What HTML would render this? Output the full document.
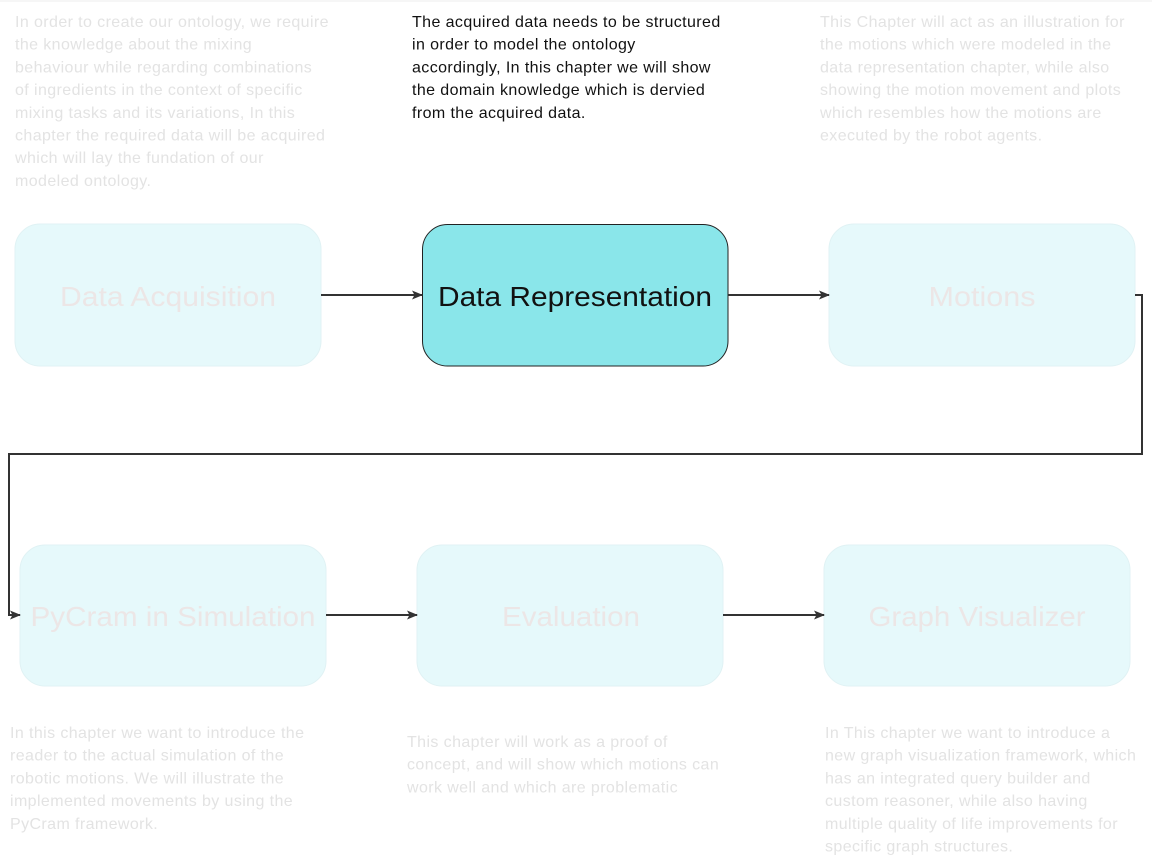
<!DOCTYPE html>
<html><head><meta charset="utf-8"><style>
html,body{margin:0;padding:0;background:#fff;}
svg{display:block;}
text{font-family:"Liberation Sans","DejaVu Sans",sans-serif;}
.f{fill:#e3e3e3;font-size:16px;letter-spacing:0.4px;}
.d{fill:#111;font-size:16px;letter-spacing:0.4px;}
.bl{fill:#ece6e6;font-size:28px;text-anchor:middle;}
.box{fill:#e6f9fb;stroke:#e0f2f4;stroke-width:1;}
.ln{stroke:#333;stroke-width:2;fill:none;}
</style></head><body>
<svg width="1152" height="867" viewBox="0 0 1152 867" xmlns="http://www.w3.org/2000/svg">
<defs><marker id="a" markerWidth="12" markerHeight="12" refX="10" refY="6" orient="auto" markerUnits="userSpaceOnUse"><path d="M0,1.5 L11,6 L0,10.5 L2.5,6 Z" fill="#333"/></marker></defs>
<line x1="0" y1="1" x2="1152" y2="1" stroke="#eee" stroke-width="1"/>
<g class="f">
<text x="15" y="27">In order to create our ontology, we require</text>
<text x="15" y="49.7">the knowledge about the mixing</text>
<text x="15" y="72.4">behaviour while regarding combinations</text>
<text x="15" y="95.1">of ingredients in the context of specific</text>
<text x="15" y="117.8">mixing tasks and its variations, In this</text>
<text x="15" y="140.5">chapter the required data will be acquired</text>
<text x="15" y="163.2">which will lay the fundation of our</text>
<text x="15" y="185.9">modeled ontology.</text>
<text x="820" y="27">This Chapter will act as an illustration for</text>
<text x="820" y="49.7">the motions which were modeled in the</text>
<text x="820" y="72.4">data representation chapter, while also</text>
<text x="820" y="95.1">showing the motion movement and plots</text>
<text x="820" y="117.8">which resembles how the motions are</text>
<text x="820" y="140.5">executed by the robot agents.</text>
<text x="10" y="738">In this chapter we want to introduce the</text>
<text x="10" y="760.7">reader to the actual simulation of the</text>
<text x="10" y="783.4">robotic motions. We will illustrate the</text>
<text x="10" y="806.1">implemented movements by using the</text>
<text x="10" y="828.8">PyCram framework.</text>
<text x="407" y="747">This chapter will work as a proof of</text>
<text x="407" y="769.7">concept, and will show which motions can</text>
<text x="407" y="792.4">work well and which are problematic</text>
<text x="825" y="738">In This chapter we want to introduce a</text>
<text x="825" y="760.7">new graph visualization framework, which</text>
<text x="825" y="783.4">has an integrated query builder and</text>
<text x="825" y="806.1">custom reasoner, while also having</text>
<text x="825" y="828.8">multiple quality of life improvements for</text>
<text x="825" y="851.5">specific graph structures.</text>
</g>
<g class="d">
<text x="412" y="27">The acquired data needs to be structured</text>
<text x="412" y="49.7">in order to  model the ontology</text>
<text x="412" y="72.4">accordingly, In this chapter we will show</text>
<text x="412" y="95.1">the domain knowledge which is dervied</text>
<text x="412" y="117.8">from the acquired data.</text>
</g>
<rect class="box" x="15" y="224" width="306" height="142" rx="25"/>
<rect x="422.5" y="224.5" width="305.5" height="141.5" rx="25" fill="#8ae6ea" stroke="#222" stroke-width="1"/>
<rect class="box" x="829" y="224" width="306" height="142" rx="25"/>
<rect class="box" x="20" y="545" width="306" height="141" rx="25"/>
<rect class="box" x="417" y="545" width="306" height="141" rx="25"/>
<rect class="box" x="824" y="545" width="306" height="141" rx="25"/>
<text class="bl" x="168" y="306" textLength="216" lengthAdjust="spacingAndGlyphs">Data Acquisition</text>
<text x="575" y="306" style="fill:#111;font-size:28px;text-anchor:middle;" textLength="274" lengthAdjust="spacingAndGlyphs">Data Representation</text>
<text class="bl" x="982" y="306" textLength="107" lengthAdjust="spacingAndGlyphs">Motions</text>
<text class="bl" x="173" y="626" textLength="285" lengthAdjust="spacingAndGlyphs">PyCram in Simulation</text>
<text class="bl" x="571" y="626" textLength="138" lengthAdjust="spacingAndGlyphs">Evaluation</text>
<text class="bl" x="977" y="626" textLength="217" lengthAdjust="spacingAndGlyphs">Graph Visualizer</text>
<line class="ln" x1="321" y1="295" x2="422" y2="295" marker-end="url(#a)"/>
<line class="ln" x1="728" y1="295" x2="829" y2="295" marker-end="url(#a)"/>
<path class="ln" d="M1135,295 H1142 V454 H9 V615 H20" marker-end="url(#a)"/>
<line class="ln" x1="326" y1="615" x2="417" y2="615" marker-end="url(#a)"/>
<line class="ln" x1="723" y1="615" x2="824" y2="615" marker-end="url(#a)"/>
</svg>
</body></html>
